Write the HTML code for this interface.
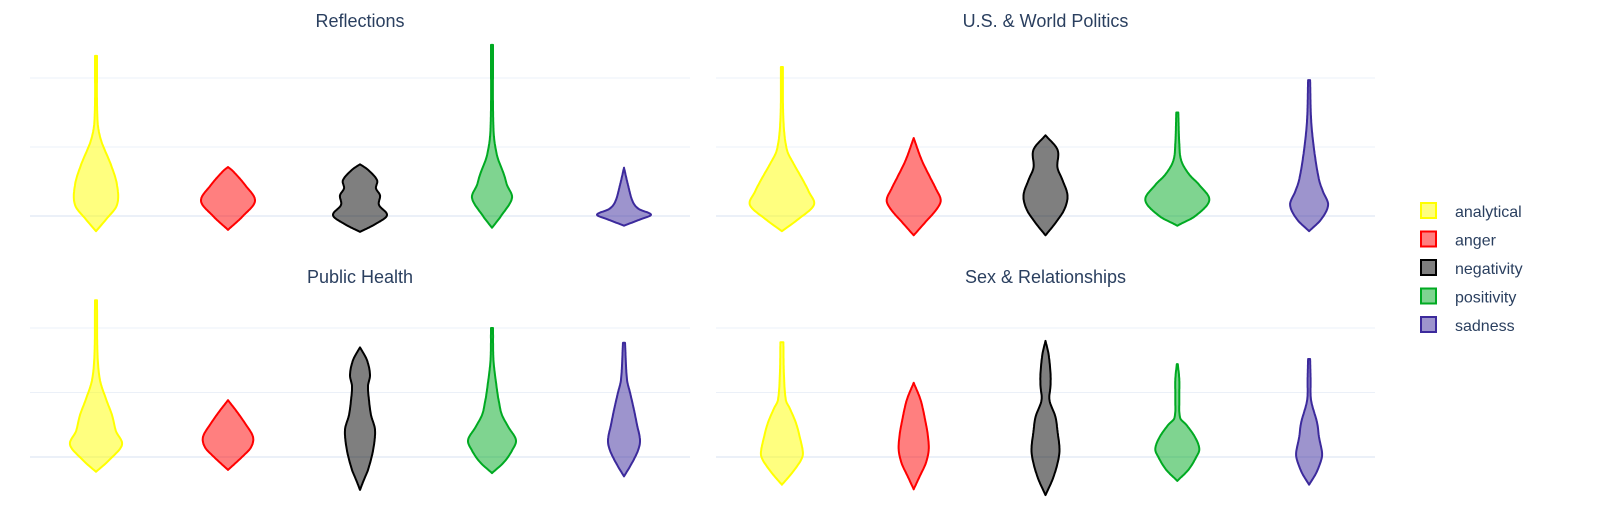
<!DOCTYPE html>
<html><head><meta charset="utf-8"><style>
html,body{margin:0;padding:0;background:#fff;overflow:hidden;width:1599px;height:515px;}
svg{display:block;font-family:"Liberation Sans",sans-serif;}
</style></head><body>
<svg id="c" width="1599" height="515"></svg>
<script>
const categories=["analytical","anger","negativity","positivity","sadness"];
const panelTitles=["Reflections","U.S. & World Politics","Public Health","Sex & Relationships"];
const valsReflections=[
[-0.22,-0.05,0.16,0.45,0.74,1.1,1.39,2.32],
[-0.2,0,0.22,0.45,0.65,0.71],
[-0.23,-0.12,0.01,0.16,0.3,0.4,0.52,0.67,0.75],
[-0.17,0,0.26,0.45,0.6,0.88,1.25,2.48],
[-0.14,-0.05,0.02,0.1,0.2,0.45,0.7]];
const densReflections=[
[0,10,21,21,15,5,1.5,1],
[0,15,27,17,5,0],
[0,15,27,19,20,16,17,8,0],
[0,9,20,15,12,5,1.5,1],
[0,16,27,15,9,4,0]];
const valsPolitics=[
[-0.22,-0.05,0.16,0.35,0.52,0.75,0.96,1.4,2.16],
[-0.28,-0.1,0.1,0.23,0.4,0.6,0.81,1.13],
[-0.28,-0.1,0.1,0.3,0.52,0.7,0.96,1.17],
[-0.14,0,0.23,0.45,0.6,0.8,1.05,1.5],
[-0.22,-0.05,0.16,0.35,0.52,0.96,1.4,1.97]];
const densPolitics=[
[0,16,32,27,21,12,5,1.5,1],
[0,11,23,27,22,15,8,0],
[0,10,19,22,17,12,12,0],
[0,18,32,22,12,4,2,1],
[0,12,19,14,10,5,2,1]];
const valsHealth=[
[-0.23,-0.05,0.19,0.4,0.65,0.9,1.19,1.6,2.43],
[-0.2,0,0.15,0.31,0.5,0.7,0.88],
[-0.51,-0.35,-0.2,0.1,0.42,0.65,0.88,1.1,1.27,1.5,1.7],
[-0.25,-0.08,0.1,0.26,0.45,0.65,0.85,1.04,1.5,2.0],
[-0.3,-0.12,0.1,0.26,0.5,0.73,1.0,1.2,1.77]];
const densHealth=[
[0,13,26,20,16,10,4,1.5,1],
[0,14,23,25,18,9,0],
[0,4,8,13,15,11,9,8,10,7,0],
[0,12,20,24,17,10,7,5,1.5,1],
[0,7,14,16,13,10,6,3,1]];
const valsSex=[
[-0.43,-0.25,-0.05,0.06,0.3,0.53,0.75,0.88,1.3,1.78],
[-0.5,-0.3,-0.1,0.11,0.35,0.53,0.88,1.15],
[-0.59,-0.35,-0.1,0.11,0.4,0.62,0.88,1.1,1.3,1.6,1.8],
[-0.37,-0.2,0,0.12,0.3,0.5,0.6,0.9,1.2,1.44],
[-0.43,-0.25,-0.05,0.06,0.3,0.53,0.88,1.2,1.52]];
const densSex=[
[0,10,19,21,18,14,8,4,2,1.5],
[0,6,12,15,14,12,7,0],
[0,7,12,14,12,10,4,5,5,3,0],
[0,11,19,22,18,9,3,2,2,0.5],
[0,7,12,13,10,8,2,1.5,1]];
const gridTicks=[0,1,2];

const strokes=["#ffff00","#ff0000","#000000","#00aa22","#3c2a9c"];
const fills=["rgba(255,255,0,0.5)","rgba(255,0,0,0.5)","rgba(0,0,0,0.5)","rgba(0,170,34,0.5)","rgba(60,42,156,0.5)"];
const panels=[
 {x0:30,x1:690,y0:216,ppu:69,ty:21,vals:valsReflections,dens:densReflections},
 {x0:716,x1:1375,y0:216,ppu:69,ty:21,vals:valsPolitics,dens:densPolitics},
 {x0:30,x1:690,y0:457,ppu:64.5,ty:277,vals:valsHealth,dens:densHealth},
 {x0:716,x1:1375,y0:457,ppu:64.5,ty:277,vals:valsSex,dens:densSex}];
const NS="http://www.w3.org/2000/svg";
const svg=document.getElementById('c');
function mk(t,a,p){const e=document.createElementNS(NS,t);for(const k in a)e.setAttribute(k,a[k]);(p||svg).appendChild(e);return e;}
// 1D cubic hermite interpolation of width as function of value
function interp(v,w,x){
 const n=v.length;
 let k=0;while(k<n-2&&x>v[k+1])k++;
 const tan=i=>{
  if(i===0)return (w[1]-w[0])/(v[1]-v[0]);
  if(i===n-1)return (w[n-1]-w[n-2])/(v[n-1]-v[n-2]);
  return (w[i+1]-w[i-1])/(v[i+1]-v[i-1]);
 };
 const h=v[k+1]-v[k],t=(x-v[k])/h;
 const h00=2*t*t*t-3*t*t+1,h10=t*t*t-2*t*t+t,h01=-2*t*t*t+3*t*t,h11=t*t*t-t*t;
 return Math.max(0,h00*w[k]+h10*h*tan(k)+h01*w[k+1]+h11*h*tan(k+1));
}
panels.forEach((P,pi)=>{
 const g=mk('g',{});
 
 
 const yS=v=>P.y0-v*P.ppu;
 const step=(P.x1-P.x0)/categories.length;
 const xS=i=>P.x0+step*(i+0.5);
 gridTicks.forEach(t=>{
  const l=mk('line',{x1:P.x0,x2:P.x1,y1:yS(t),y2:yS(t),stroke:"#ebf0f8","stroke-width":t===0?2:1},g);
  
  
 });
 const tt=mk('text',{x:(P.x0+P.x1)/2,y:P.ty+6,"text-anchor":"middle","font-size":"18",fill:"#2a3f5f"},g);
 tt.textContent=panelTitles[pi];
 
 
 categories.forEach((c,i)=>{
  const v=P.vals[i],w=P.dens[i],cx=xS(i);
  const lo=v[0],hi=v[v.length-1],N=120;
  const right=[],left=[];
  for(let s=0;s<=N;s++){
   const x=lo+(hi-lo)*s/N;
   const ww=interp(v,w,x);
   right.push([cx+ww,yS(x)]);left.push([cx-ww,yS(x)]);
  }
  const pts=right.concat(left.reverse());
  const d='M'+pts.map(p=>p[0].toFixed(1)+','+p[1].toFixed(1)).join('L')+'Z';
  const p=mk('path',{d:d,fill:fills[i],stroke:strokes[i],"stroke-width":2,"stroke-linejoin":"round"},g);
  
  
 });
});
const lg=mk('g',{});


categories.forEach((c,i)=>{
 const y=211+i*28.5;
 const r=mk('rect',{x:1421,y:y-8,width:15,height:15,fill:fills[i],stroke:strokes[i],"stroke-width":2},lg);
 
 
 const t=mk('text',{x:1455,y:y+6,"font-size":"16",fill:"#2a3f5f"},lg);
 t.textContent=c;
 
 
});
</script>
</body></html>
